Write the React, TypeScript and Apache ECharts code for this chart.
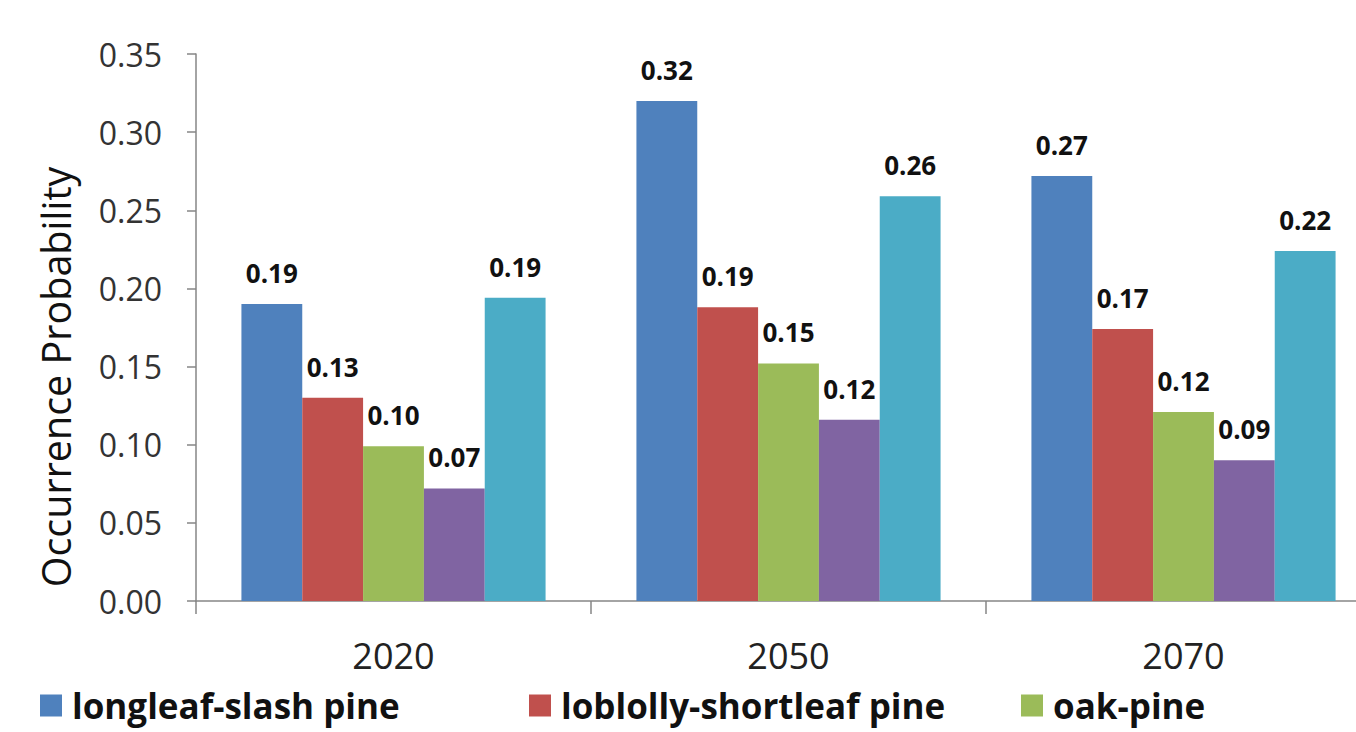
import React, { useEffect, useRef } from "react";
import * as echarts from "echarts";

const categories = ["2020", "2050", "2070"];
const seriesNames = [
  "longleaf-slash pine",
  "loblolly-shortleaf pine",
  "oak-pine",
  "oak-hickory",
  "oak-gum-cypress",
];
const longleafSlash = [0.19, 0.32, 0.272];
const loblollyShortleaf = [0.13, 0.188, 0.174];
const oakPine = [0.099, 0.152, 0.121];
const oakHickory = [0.072, 0.116, 0.09];
const oakGumCypress = [0.194, 0.259, 0.224];
const colors = ["#4F81BD", "#C0504D", "#9BBB59", "#8064A2", "#4BACC6"];
const yTicks = { min: 0, max: 0.35, interval: 0.05 };
const legendLefts = [40, 529, 1021];

const FONT = "'Open Sans', 'Noto Sans', sans-serif";

export default function App() {
  const ref = useRef<HTMLDivElement>(null);
  useEffect(() => {
    if (!ref.current) return;
    const chart = echarts.init(ref.current, undefined, { renderer: "svg" });
    const values = [longleafSlash, loblollyShortleaf, oakPine, oakHickory, oakGumCypress];
    chart.setOption({
      animation: false,
      backgroundColor: "#ffffff",
      color: colors,
      grid: { left: 196, right: 0, top: 54, bottom: 131, containLabel: false },
      legend: legendLefts.map((l, i) => ({
        left: l,
        top: 688,
        data: [seriesNames[i]],
        icon: "rect",
        itemWidth: 22,
        itemHeight: 22,
        padding: 0,
        textStyle: {
          fontFamily: FONT,
          fontSize: 35,
          fontWeight: "bold",
          color: "#111",
          padding: [0, 0, 0, 5],
        },
      })),
      graphic: [
        {
          type: "text",
          x: 56,
          y: 377,
          rotation: Math.PI / 2,
          style: {
            text: "Occurrence Probability",
            fontFamily: FONT,
            fontSize: 39.5,
            fill: "#111",
            align: "center",
            verticalAlign: "middle",
          },
        },
      ],
      xAxis: {
        type: "category",
        data: categories,
        axisLine: { lineStyle: { color: "#868686", width: 1.5 } },
        axisTick: { show: true, length: 13, lineStyle: { color: "#868686", width: 1.5 } },
        axisLabel: { fontFamily: FONT, fontSize: 36, color: "#222", margin: 36 },
      },
      yAxis: {
        type: "value",
        min: yTicks.min,
        max: yTicks.max,
        interval: yTicks.interval,
        splitLine: { show: false },
        axisLine: { show: true, lineStyle: { color: "#868686", width: 1.5 } },
        axisTick: { show: true, length: 9, lineStyle: { color: "#868686", width: 1.5 } },
        axisLabel: {
          fontFamily: FONT,
          fontSize: 32,
          color: "#333",
          margin: 34,
          formatter: (v: number) => v.toFixed(2),
        },
      },
      series: values.map((d, i) => ({
        name: seriesNames[i],
        type: "bar",
        data: d,
        barGap: "0%",
        barCategoryGap: "23%",
        itemStyle: { color: colors[i] },
        label: {
          show: true,
          position: "top",
          distance: 18,
          fontFamily: FONT,
          fontSize: 26,
          fontWeight: "bold",
          color: "#111",
          formatter: (p: any) => Number(p.value).toFixed(2),
        },
      })),
    });
    return () => chart.dispose();
  }, []);
  return (
    <div
      style={{
        position: "fixed",
        left: 0,
        top: 0,
        width: 1356,
        height: 732,
        overflow: "hidden",
        background: "#fff",
      }}
    >
      <div ref={ref} style={{ width: 1381, height: 732 }} />
    </div>
  );
}
